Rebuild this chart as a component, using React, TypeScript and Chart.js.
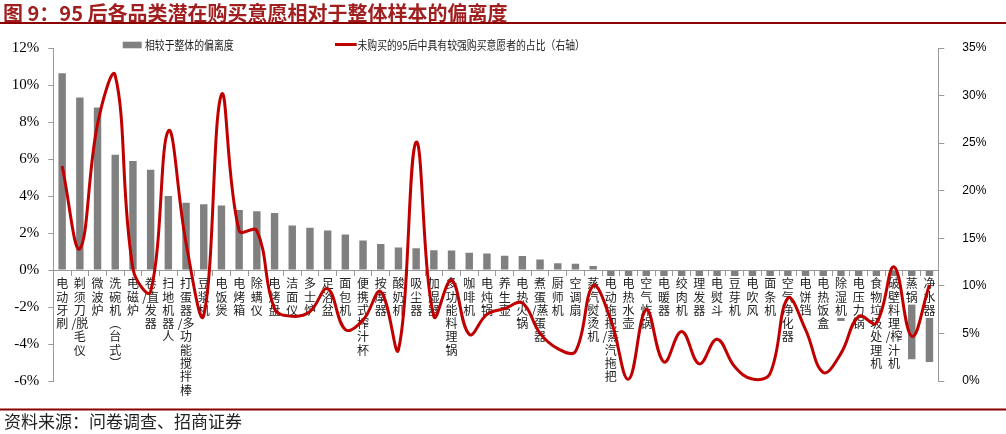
import React, { useEffect, useRef } from 'react';
import { Chart, registerables } from 'chart.js';

Chart.register(...registerables);

const categories = [
  '电动牙刷', '剃须刀/脱毛仪', '微波炉', '洗碗机（台式）', '电磁炉', '卷/直发器', '扫地机器人',
  '打蛋器/多功能搅拌棒', '豆浆机', '电饭煲', '电烤箱', '除螨仪', '电烤盘', '洁面仪', '多士炉',
  '足浴盆', '面包机', '便携式榨汁杯', '按摩器', '酸奶机', '吸尘器', '加湿器', '多功能料理锅',
  '咖啡机', '电炖锅', '养生壶', '电热火锅', '煮蛋/蒸蛋器', '厨师机', '空调扇', '蒸汽熨烫机',
  '电动拖把/蒸汽拖把', '电热水壶', '空气炸锅', '电暖器', '绞肉机', '理发器', '电熨斗', '豆芽机',
  '电吹风', '面条机', '空气净化器', '电饼铛', '电热饭盒', '除湿机', '电压力锅', '食物垃圾处理机',
  '破壁料理/榨汁机', '蒸锅', '净水器',
];

const deviation = [
  10.64, 9.32, 8.78, 6.23, 5.89, 5.42, 4.0, 3.63, 3.55, 3.48, 3.25, 3.18, 3.08, 2.4, 2.28,
  2.13, 1.92, 1.6, 1.4, 1.22, 1.18, 1.07, 1.06, 0.93, 0.89, 0.77, 0.76, 0.57, 0.37, 0.34, 0.21,
  -0.9, -1.0, -1.1, -1.2, -1.3, -1.4, -1.5, -1.6, -1.7, -1.8, -2.0, -2.2, -2.4, -2.75, -3.0,
  -3.3, -3.6, -4.83, -4.97,
];

const intentShare = [
  22.6, 13.9, 27.0, 32.1, 11.8, 9.4, 26.3, 14.5, 6.9, 30.1, 15.8, 15.8, 7.6, 6.8, 7.3,
  9.7, 5.4, 6.4, 9.4, 3.3, 25.1, 6.8, 10.6, 4.9, 7.0, 7.6, 8.2, 5.0, 3.4, 3.1, 10.0,
  6.4, 0.2, 7.5, 2.0, 5.2, 1.8, 4.4, 1.5, 0.2, 0.8, 8.7, 5.4, 0.9, 2.9, 6.8, 6.1,
  12.0, 4.7, 10.1,
];

const leftTickRange = [-6, 12, 2];
const rightTickRange = [0, 35, 5];

const TITLE = '图 9：95 后各品类潜在购买意愿相对于整体样本的偏离度';
const SOURCE = '资料来源：问卷调查、招商证券';
const BAR_LABEL = '相较于整体的偏离度';
const LINE_LABEL = '未购买的95后中具有较强购买意愿者的占比（右轴）';

const CJK = '"Noto Sans CJK SC", "Noto Sans", sans-serif';
const LABEL_LINE_H = 13.3;

function toVertical(s: string): string[] {
  const out: string[] = [];
  let pending = '';
  for (const ch of Array.from(s)) {
    if (ch === '/') {
      pending += '/';
      continue;
    }
    const c = ch === '（' ? '︵' : ch === '）' ? '︶' : ch;
    out.push(pending + c);
    pending = '';
  }
  return out;
}

const verticalLabels = categories.map(toVertical);

const decorPlugin = {
  id: 'decor',
  beforeDatasetDraw(chart: any, args: any) {
    if (args.index === 1) return false;
    return true;
  },
  afterDatasetsDraw(chart: any) {
    const ctx = chart.ctx;
    const xs = chart.scales.x;
    const ys = chart.scales.y;
    const top = ys.getPixelForValue(0) + 6;
    ctx.save();
    ctx.fillStyle = '#ffffff';
    verticalLabels.forEach((lines, i) => {
      const cx = xs.getPixelForTick(i);
      ctx.fillRect(cx - 7, top, 14, lines.length * LABEL_LINE_H + 2);
    });
    ctx.restore();
  },
  afterDraw(chart: any) {
    const ctx = chart.ctx;
    const meta = chart.getDatasetMeta(1);
    ctx.save();
    meta.controller.draw();
    ctx.restore();

    const ds = chart.data.datasets;
    ctx.save();
    // legend
    ctx.fillStyle = ds[0].backgroundColor;
    ctx.fillRect(122.7, 41.7, 19, 6.6);
    ctx.strokeStyle = ds[1].borderColor;
    ctx.lineWidth = 3;
    ctx.beginPath();
    ctx.moveTo(335, 44.5);
    ctx.lineTo(356.7, 44.5);
    ctx.stroke();
    ctx.fillStyle = '#222';
    ctx.font = `12px ${CJK}`;
    ctx.textBaseline = 'middle';
    ctx.textAlign = 'left';
    ctx.save();
    ctx.translate(145, 45.5);
    ctx.scale(0.82, 1);
    ctx.fillText(ds[0].label, 0, 0);
    ctx.restore();
    ctx.save();
    ctx.translate(357.5, 45.5);
    ctx.scale(0.82, 1);
    ctx.fillText(ds[1].label, 0, 0);
    ctx.restore();

    // title
    ctx.fillStyle = '#A01E1E';
    ctx.font = `bold 20px ${CJK}`;
    ctx.fillText(TITLE, 3, 13);
    ctx.strokeStyle = '#8B0000';
    ctx.lineWidth = 2;
    ctx.beginPath();
    ctx.moveTo(0, 23);
    ctx.lineTo(1006, 23);
    ctx.stroke();

    // footer
    ctx.beginPath();
    ctx.moveTo(0, 409.5);
    ctx.lineTo(1006, 409.5);
    ctx.stroke();
    ctx.fillStyle = '#222';
    ctx.font = `17px ${CJK}`;
    ctx.fillText(SOURCE, 4, 421.5);
    ctx.restore();
  },
};

export default function App() {
  const ref = useRef<HTMLCanvasElement | null>(null);

  useEffect(() => {
    document.body.style.margin = '0';
    if (!ref.current) return;
    const chart = new Chart(ref.current, {
      type: 'bar',
      data: {
        labels: categories,
        datasets: [
          {
            type: 'bar',
            label: BAR_LABEL,
            data: deviation,
            yAxisID: 'y',
            backgroundColor: '#808080',
            barPercentage: 0.42,
            categoryPercentage: 1,
            order: 2,
          },
          {
            type: 'line',
            label: LINE_LABEL,
            data: intentShare,
            yAxisID: 'y1',
            borderColor: '#C00000',
            backgroundColor: '#C00000',
            borderWidth: 3,
            pointRadius: 0,
            tension: 0.4,
            fill: false,
            order: 1,
          },
        ] as any,
      },
      options: {
        animation: false,
        responsive: true,
        maintainAspectRatio: false,
        layout: { padding: { top: 48, bottom: 53, left: 0, right: 0 } },
        plugins: {
          legend: { display: false },
          tooltip: { enabled: false },
          title: { display: false },
        },
        scales: {
          x: {
            axis: 'x',
            type: 'category',
            position: { y: 0 } as any,
            offset: true,
            grid: {
              offset: true,
              drawOnChartArea: false,
              drawTicks: true,
              tickLength: 5,
              color: '#999',
              z: 1,
            },
            border: { color: '#999', width: 1, z: 1 },
            ticks: {
              z: 1,
              autoSkip: false,
              maxRotation: 0,
              minRotation: 0,
              padding: 2,
              color: '#222',
              font: { family: CJK, size: 12, lineHeight: LABEL_LINE_H / 12 },
              callback: (_v: any, i: number) => verticalLabels[i],
            },
          },
          y: {
            type: 'linear',
            position: 'left',
            min: leftTickRange[0],
            max: leftTickRange[1],
            afterFit: (s: any) => {
              s.width = 53.3;
            },
            grid: { drawOnChartArea: false, drawTicks: true, tickLength: 5, color: '#999' },
            border: { color: '#999', width: 1 },
            ticks: {
              stepSize: leftTickRange[2],
              padding: 9,
              color: '#000',
              font: { family: '"Liberation Serif", "Times New Roman", serif', size: 15 },
              callback: (v: any) => `${v}%`,
            },
          },
          y1: {
            type: 'linear',
            position: 'right',
            min: rightTickRange[0],
            max: rightTickRange[1],
            afterFit: (s: any) => {
              s.width = 67.7;
            },
            grid: { drawOnChartArea: false, drawTicks: true, tickLength: 6, color: '#999' },
            border: { color: '#999', width: 1 },
            ticks: {
              stepSize: rightTickRange[2],
              padding: 18,
              color: '#000',
              font: { family: '"Liberation Sans", Arial, sans-serif', size: 12 },
              callback: (v: any) => `${v}%`,
            },
          },
        },
      } as any,
      plugins: [decorPlugin as any],
    });
    return () => chart.destroy();
  }, []);

  return (
    <div style={{ position: 'absolute', left: 0, top: 0, width: 1006, height: 434, background: '#fff' }}>
      <canvas ref={ref} />
    </div>
  );
}
